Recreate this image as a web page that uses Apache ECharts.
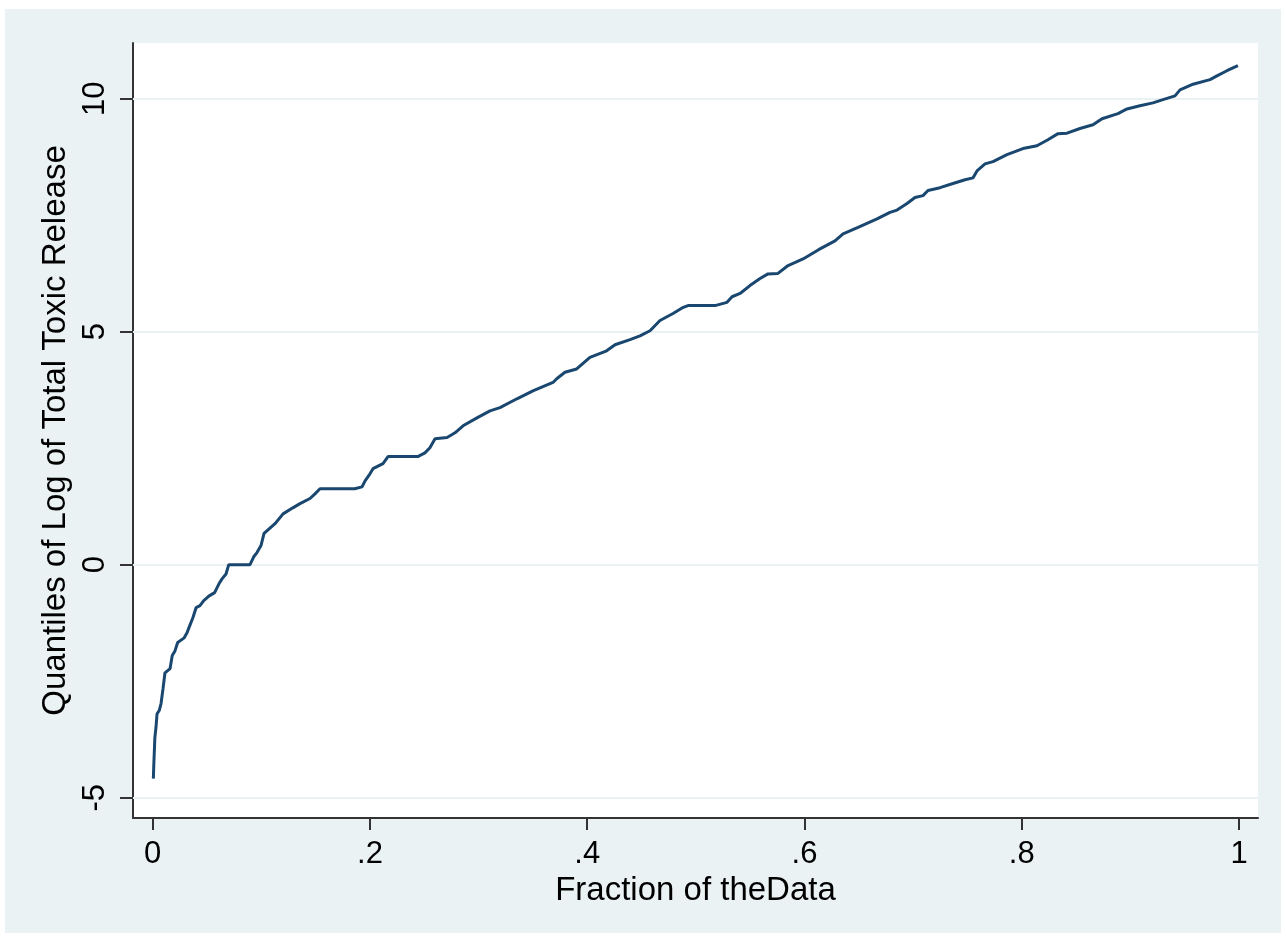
<!DOCTYPE html>
<html>
<head>
<meta charset="utf-8">
<script src="https://cdn.jsdelivr.net/npm/echarts@6/dist/echarts.min.js"></script>
<style>html,body{margin:0;padding:0;background:#fff;}#c{width:1286px;height:939px;}</style>
</head>
<body>
<div id="c"></div>
<script>
var fraction = [0.0006,0.001,0.002,0.003,0.004,0.006,0.0077,0.0095,0.0104,0.0113,0.016,0.018,0.0205,0.023,0.029,0.0316,0.0334,0.037,0.04,0.0435,0.047,0.052,0.057,0.061,0.064,0.0675,0.070,0.0896,0.093,0.096,0.0997,0.1025,0.1126,0.12,0.129,0.1356,0.1448,0.1494,0.154,0.186,0.1927,0.1955,0.2,0.2028,0.212,0.2166,0.244,0.2506,0.2552,0.2599,0.271,0.2783,0.2857,0.2985,0.3105,0.3197,0.3353,0.35,0.3685,0.3719,0.3795,0.3903,0.4025,0.4179,0.4256,0.4394,0.4486,0.4578,0.467,0.479,0.4873,0.4928,0.5176,0.5287,0.5333,0.5407,0.5498,0.5591,0.5664,0.5756,0.5849,0.5987,0.613,0.6281,0.6355,0.6493,0.6668,0.6787,0.6852,0.6944,0.7017,0.7091,0.7137,0.7248,0.7367,0.7478,0.7551,0.7588,0.7662,0.7735,0.7864,0.8011,0.8140,0.8241,0.8334,0.8417,0.8536,0.8656,0.8739,0.8886,0.8969,0.9088,0.9208,0.93,0.9411,0.9457,0.9577,0.9733,0.9797,0.9889,0.9990];
var quantile = [-4.59,-4.31,-3.71,-3.5,-3.2,-3.13,-2.98,-2.66,-2.49,-2.32,-2.23,-1.95,-1.85,-1.67,-1.57,-1.46,-1.35,-1.14,-0.92,-0.88,-0.77,-0.67,-0.6,-0.41,-0.3,-0.2,0,0,0.17,0.26,0.41,0.67,0.88,1.09,1.22,1.31,1.42,1.52,1.63,1.63,1.67,1.80,1.95,2.06,2.17,2.32,2.32,2.40,2.51,2.70,2.73,2.83,2.98,3.15,3.30,3.37,3.56,3.73,3.91,3.99,4.13,4.2,4.45,4.59,4.72,4.83,4.91,5.02,5.24,5.39,5.51,5.56,5.56,5.63,5.75,5.82,5.99,6.14,6.24,6.25,6.42,6.56,6.76,6.95,7.10,7.24,7.42,7.56,7.61,7.75,7.88,7.92,8.03,8.09,8.18,8.26,8.30,8.45,8.60,8.65,8.80,8.93,8.99,9.12,9.25,9.26,9.36,9.44,9.57,9.68,9.78,9.85,9.91,9.98,10.06,10.19,10.31,10.41,10.49,10.60,10.71];
var xTickValues = [0, 0.2, 0.4, 0.6, 0.8, 1];
var xTickLabels = ['0', '.2', '.4', '.6', '.8', '1'];
var yTickValues = [-5, 0, 5, 10];
var yTickLabels = ['-5', '0', '5', '10'];

var points = fraction.map(function (f, i) { return [f, quantile[i]]; });
var xLabelMap = {}; xTickValues.forEach(function (v, i) { xLabelMap[v] = xTickLabels[i]; });
var yLabelMap = {}; yTickValues.forEach(function (v, i) { yLabelMap[v] = yTickLabels[i]; });

var BG = '#eaf2f3';
var FONT = '"Liberation Sans", Arial, sans-serif';
var chart = echarts.init(document.getElementById('c'), null, {renderer: 'canvas'});
chart.setOption({
  backgroundColor: '#ffffff',
  animation: false,
  graphic: [{
    type: 'rect', z: -10, silent: true,
    shape: {x: 5, y: 9, width: 1276, height: 924},
    style: {fill: BG}
  }],
  grid: {left: 133, top: 43, width: 1125, height: 775, show: true, backgroundColor: '#ffffff', borderWidth: 0, containLabel: false},
  xAxis: {
    type: 'value', min: -0.01813, max: 1.01749,
    name: 'Fraction of theData', nameLocation: 'middle', nameGap: 48,
    nameTextStyle: {fontFamily: FONT, fontSize: 33, color: '#000'},
    axisLine: {show: true, onZero: false, lineStyle: {color: '#333', width: 2}},
    axisTick: {show: true, length: 12, customValues: xTickValues, lineStyle: {color: '#333', width: 2}},
    axisLabel: {customValues: xTickValues, margin: 21, fontFamily: FONT, fontSize: 31, color: '#000',
      formatter: function (v) { return xLabelMap[v] !== undefined ? xLabelMap[v] : ''; }},
    splitLine: {show: false}
  },
  yAxis: {
    type: 'value', min: -5.436, max: 11.195,
    name: 'Quantiles of Log of Total Toxic Release', nameLocation: 'middle', nameGap: 56, nameRotate: 90,
    nameTextStyle: {fontFamily: FONT, fontSize: 33, color: '#000'},
    axisLine: {show: true, onZero: false, lineStyle: {color: '#333', width: 2}},
    axisTick: {show: true, length: 13, customValues: yTickValues, lineStyle: {color: '#333', width: 2}},
    axisLabel: {customValues: yTickValues, rotate: 90, margin: 22, fontFamily: FONT, fontSize: 31, color: '#000',
      formatter: function (v) { return yLabelMap[v] !== undefined ? yLabelMap[v] : ''; }},
    splitLine: {show: false}
  },
  series: [{
    type: 'line', data: points, showSymbol: false, symbol: 'none',
    lineStyle: {color: '#1a476f', width: 3}, z: 5,
    markLine: {
      silent: true, symbol: 'none', label: {show: false}, z: 1,
      lineStyle: {color: BG, width: 2, type: 'solid'},
      data: yTickValues.map(function (v) { return {yAxis: v}; })
    }
  }]
});
</script>
</body>
</html>
